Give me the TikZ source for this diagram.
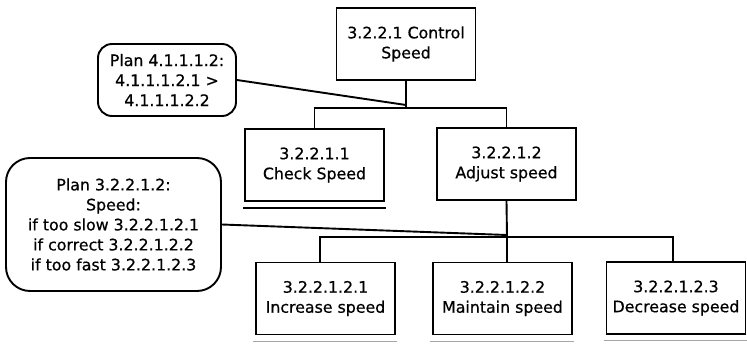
\documentclass[tikz,border=0pt]{standalone}
\usepackage{fontspec}
\setmainfont{DejaVu Sans}
\newfontfamily\boxfont{DejaVu Sans}[FakeBold=0.6]
\usetikzlibrary{positioning}

\begin{document}
\begin{tikzpicture}[x=1pt,y=-1pt,line width=1.9pt]
		\tikzstyle{every node}+=[font=\boxfont\fontsize{15.8}{20}\selectfont, align=center]
		\tikzstyle{task}=[draw, minimum width=139pt, minimum height=72pt, inner sep=2pt]
		\tikzstyle{plan}=[draw, rounded corners=14pt, inner sep=2pt]
		\tikzstyle{stopline}=[draw=gray!70, line width=1pt]
		\useasboundingbox (0,0) rectangle (747,343);
		\node [task] (top) at (406,44) {3.2.2.1 Control\\Speed};
		\node [plan, minimum width=138pt, minimum height=72pt] (plan1) at (167,80) {Plan 4.1.1.1.2:\\4.1.1.1.2.1 >\\4.1.1.1.2.2};
		\node [task] (check) at (314.5,165) {3.2.2.1.1\\Check Speed};
		\node [task] (adjust) at (506.5,164) {3.2.2.1.2\\Adjust speed};
		\node [plan, rounded corners=24pt, minimum width=215pt, minimum height=133pt] (plan2) at (113.5,224.5) {Plan 3.2.2.1.2:\\Speed:\\if too slow 3.2.2.1.2.1\\if correct 3.2.2.1.2.2\\if too fast 3.2.2.1.2.3};
		\node [task] (inc) at (325.5,298.5) {3.2.2.1.2.1\\Increase speed};
		\node [task] (maint) at (502.5,298.5) {3.2.2.1.2.2\\Maintain speed};
		\node [task] (dec) at (676,298) {3.2.2.1.2.3\\Decrease speed};
		\coordinate (b1) at (406,108);
		\coordinate (b2) at (507,237);
		\draw (top.south) -- (b1);
		\draw (check.north) |- (b1) -| (adjust.north);
		\draw (plan1.east) -- ([yshift=3pt]b1);
		\draw (adjust.south) -- (b2);
		\draw (inc.north -| 320,0) |- (b2) -| (dec.north -| 673,0);
		\draw (b2) -- (b2 |- maint.north);
		\draw (plan2.east) -- ([yshift=2pt]b2);
		\draw ([xshift=-1pt,yshift=-6pt]check.south west) -- ([xshift=1pt,yshift=-6pt]check.south east);
		\draw [stopline] ([xshift=-2pt,yshift=-6pt]inc.south west) -- ([xshift=1pt,yshift=-6pt]inc.south east);
		\draw [stopline] ([xshift=-2pt,yshift=-6pt]maint.south west) -- ([xshift=1pt,yshift=-6pt]maint.south east);
		\draw [stopline] ([xshift=-2pt,yshift=-6pt]dec.south west) -- ([xshift=1pt,yshift=-6pt]dec.south east);
\end{tikzpicture}
\end{document}
